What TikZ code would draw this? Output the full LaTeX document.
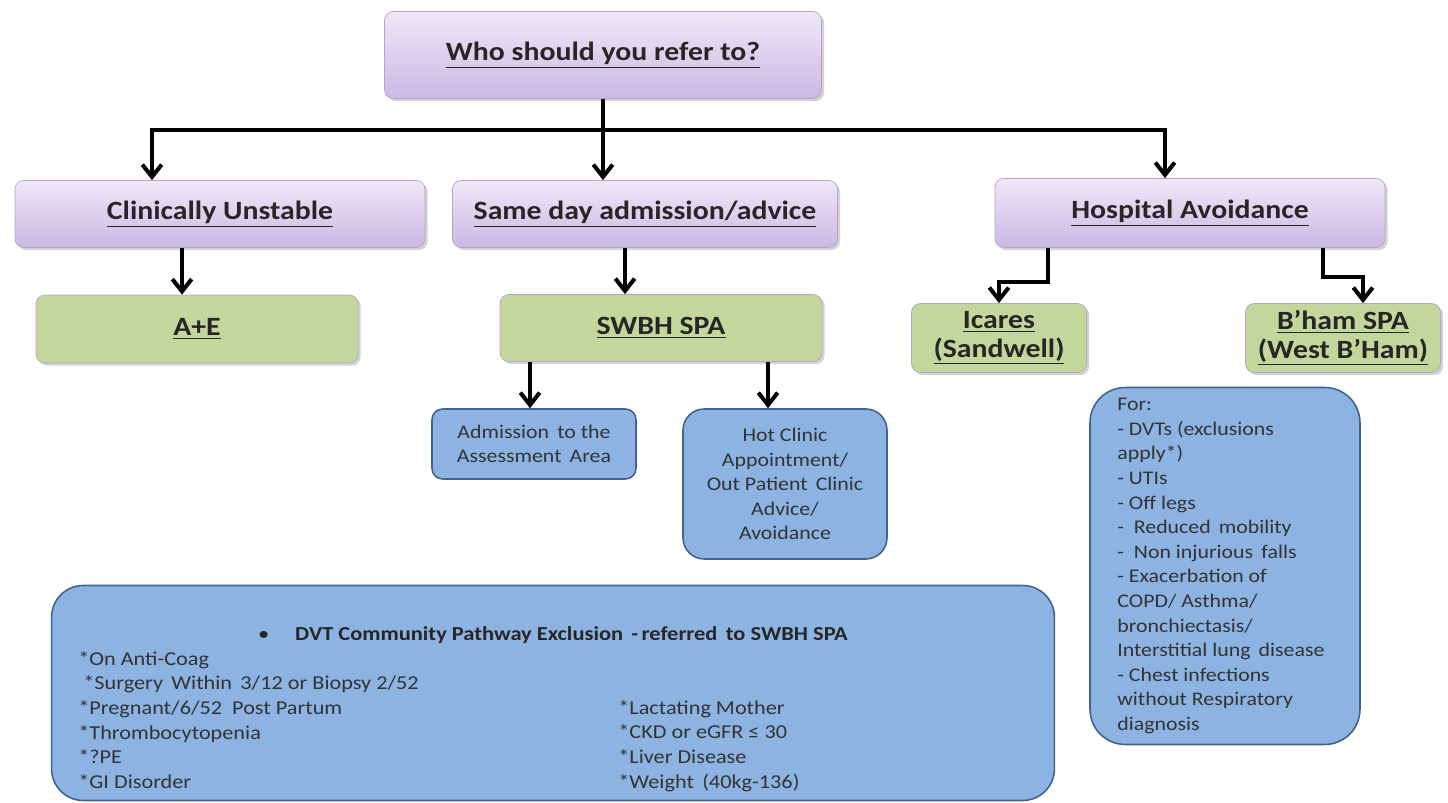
\documentclass[tikz,border=0pt]{standalone}
\usepackage{fontspec}
\usepackage{xcolor}
\usepackage{tikz}
\usetikzlibrary{arrows.meta,shadows}
\setmainfont{Carlito}[FakeStretch=1.13]
\definecolor{lilactop}{HTML}{EEE8F7}
\definecolor{lilacbot}{HTML}{CBB8E4}
\definecolor{lilacrim}{HTML}{B4A3CB}
\definecolor{leaf}{HTML}{C3D69B}
\definecolor{sky}{HTML}{8DB3E2}
\definecolor{skyrim}{HTML}{41648F}

\begin{document}
\begin{tikzpicture}[x=0.02cm, y=-0.02cm, >={Straight Barb[length=7pt,width=11pt]},
    head/.style={draw=lilacrim, top color=lilactop, bottom color=lilacbot, rounded corners=5pt,
        drop shadow={opacity=0.35, shadow xshift=1.5pt, shadow yshift=-1.5pt},
        font=\fontsize{15}{18}\selectfont\bfseries, text=black!85},
    goal/.style={draw=lilacrim, fill=leaf, rounded corners=5pt,
        drop shadow={opacity=0.35, shadow xshift=1.5pt, shadow yshift=-1.5pt},
        font=\fontsize{15}{18.5}\selectfont\bfseries, align=center, text=black!85},
    note/.style={draw=skyrim, fill=sky, line width=0.9pt, align=center,
        font=\fontsize{11}{14}\selectfont, text=black!80},
    link/.style={->, line width=2.3pt}]
    \useasboundingbox (0, 0) rectangle (1448, 803);
    % top of the tree
    \node (ask) [head, minimum width=8.74cm, minimum height=1.74cm] at (603, 55) {\underline{Who should you refer to?}};
    % three routes
    \node (unst) [head, minimum width=8.2cm, minimum height=1.34cm] at (220, 214) {\underline{Clinically Unstable}};
    \node (same) [head, minimum width=7.7cm, minimum height=1.34cm] at (645, 214) {\underline{Same day admission/advice}};
    \node (avoid) [head, minimum width=7.8cm, minimum height=1.38cm] at (1190, 213) {\underline{Hospital Avoidance}};
    % where they go
    \node (ae) [goal, minimum width=6.44cm, minimum height=1.36cm] at (197, 329) {\underline{A+E}};
    \node (spa) [goal, minimum width=6.44cm, minimum height=1.34cm] at (661, 328) {\underline{SWBH SPA}};
    \node (icares) [goal, minimum width=3.5cm, minimum height=1.38cm] at (999, 338) {\underline{Icares}\\[-2pt]\underline{(Sandwell)}};
    \node (bham) [goal, minimum width=3.9cm, minimum height=1.38cm] at (1343, 338) {\underline{B'ham SPA}\\[-2pt]\underline{(West B'Ham)}};
    % options under SWBH SPA
    \node (admit) [note, rounded corners=6pt, minimum width=4.08cm, minimum height=1.4cm] at (534, 444) {Admission\, to the\\Assessment\, Area};
    \node (hot) [note, rounded corners=12pt, minimum width=4.08cm, minimum height=3cm] at (785, 484) {Hot Clinic\\Appointment/\\Out Patient\, Clinic\\Advice/\\Avoidance};
    % what hospital avoidance covers
    \node (cover) [note, rounded corners=20pt, minimum width=5.4cm, minimum height=7.14cm] at (1225, 566) {};
    \node (coverlist) [anchor=north west, align=left, inner sep=0pt, font=\fontsize{11}{14}\selectfont, text=black!80] at (1117, 398) {For:\\- DVTs (exclusions\\apply*)\\- UTIs\\- Off legs\\-\ \ Reduced\, mobility\\-\ \ Non injurious\, falls\\- Exacerbation of\\COPD/ Asthma/\\bronchiectasis/\\Interstitial lung\, disease\\- Chest infections\\without Respiratory\\diagnosis};
    % exclusions box
    \node (excl) [note, rounded corners=18pt, minimum width=20.06cm, minimum height=4.3cm] at (553, 693) {};
    \node (excltitle) [font=\fontsize{11.3}{14}\selectfont, text=black!85] at (553, 635) {\textbullet\hspace{1.3em}\textbf{DVT Community Pathway Exclusion\, -\,referred\, to SWBH SPA}};
    \node (exclleft) [anchor=north west, align=left, inner sep=0pt, font=\fontsize{11.2}{14}\selectfont, text=black!80] at (78, 651) {*On Anti-Coag\\\ *Surgery\, Within\, 3/12 or Biopsy 2/52\\*Pregnant/6/52\ \ Post Partum\\*Thrombocytopenia\\*?PE\\*GI Disorder};
    \node (exclright) [anchor=north west, align=left, inner sep=0pt, font=\fontsize{11.2}{14}\selectfont, text=black!80] at (618, 700) {*Lactating Mother\\*CKD or eGFR ≤ 30\\*Liver Disease\\*Weight\, (40kg-136)};
    % connectors
    \coordinate (hub) at (603, 130);
    \coordinate (lefthub) at (152, 130);
    \coordinate (righthub) at (1165, 130);
    \draw [line width=2.3pt] (ask.south) -- (hub);
    \draw [line width=2.3pt, line cap=rect] (lefthub) -- (righthub);
    \draw [link] (lefthub) -- (lefthub |- unst.north);
    \draw [link] (hub) -- (hub |- same.north);
    \draw [link] (righthub) -- (righthub |- avoid.north);
    \draw [link] (unst.south -| 182,0) -- (ae.north -| 182,0);
    \draw [link] (same.south -| 625,0) -- (spa.north -| 625,0);
    \draw [link] (spa.south -| 530,0) -- (admit.north -| 530,0);
    \draw [link] (spa.south -| 768,0) -- (hot.north -| 768,0);
    \draw [link] (avoid.south -| 1048,0) -- (1048, 282) -| (icares.north);
    \draw [link] (avoid.south -| 1323,0) -- (1323, 277) -| (bham.north -| 1363,0);
\end{tikzpicture}
\end{document}
